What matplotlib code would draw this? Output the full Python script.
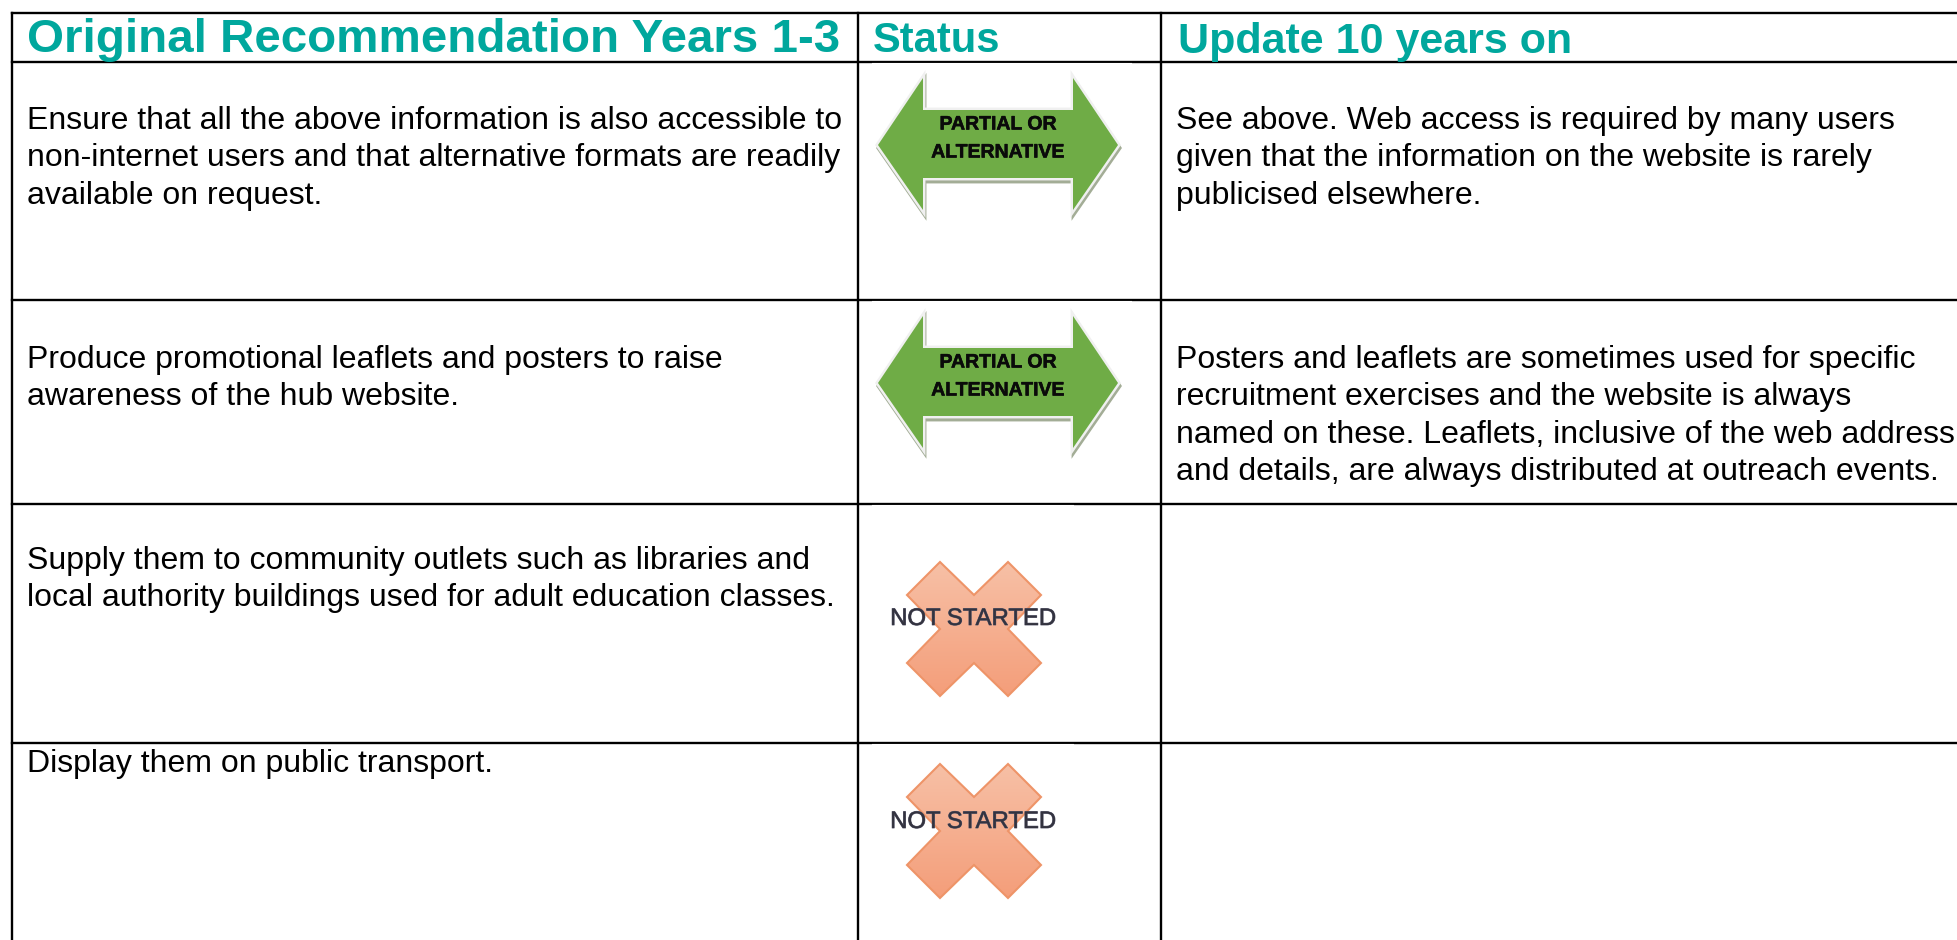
import matplotlib
matplotlib.use("Agg")
import matplotlib.pyplot as plt
import matplotlib.patheffects as pe
import numpy as np
from matplotlib.patches import Polygon

plt.rcParams['font.family'] = ['Liberation Sans', 'DejaVu Sans']

W, H = 1957, 940

headers = ["Original Recommendation Years 1-3", "Status", "Update 10 years on"]
header_sizes = [34.2, 30, 31]
header_x = [27, 873, 1178]
recommendations = [
    ["Ensure that all the above information is also accessible to",
     "non-internet users and that alternative formats are readily",
     "available on request."],
    ["Produce promotional leaflets and posters to raise",
     "awareness of the hub website."],
    ["Supply them to community outlets such as libraries and",
     "local authority buildings used for adult education classes."],
    ["Display them on public transport."],
]
statuses = [["PARTIAL OR", "ALTERNATIVE"], ["PARTIAL OR", "ALTERNATIVE"], ["NOT STARTED"], ["NOT STARTED"]]
updates = [
    ["See above. Web access is required by many users",
     "given that the information on the website is rarely",
     "publicised elsewhere."],
    ["Posters and leaflets are sometimes used for specific",
     "recruitment exercises and the website is always",
     "named on these. Leaflets, inclusive of the web address",
     "and details, are always distributed at outreach events."],
    [],
    [],
]

col_x = [12, 858, 1161]
row_y = [13, 62, 300, 504, 743]
text_top = [129, 368, 569, 772]
cross_cy = [None, None, 629, 831]
cross_text_y = [None, None, 619, 822]
teal = "#00A79D"
line_gap = 37.4


def draw_arrow(ax, top):
    # double arrow, top is the row line above it
    xs = np.array([878, 923, 923, 1073, 1073, 1118, 1073, 1073, 923, 923])
    ys = np.array([145, 78, 110, 110, 78, 145, 210, 178, 178, 210]) - 62 + top
    ax.add_patch(Polygon(np.c_[xs + 1, ys + 3], fc="#A3AD96", ec="#A3AD96", lw=3.5, joinstyle="miter", zorder=2))
    ax.add_patch(Polygon(np.c_[xs, ys], fc="#F0F0F0", ec="#F0F0F0", lw=3.5, joinstyle="miter", zorder=2.5))
    ax.add_patch(Polygon(np.c_[xs, ys], fc="#6FAC46", ec="none", zorder=3))


def draw_cross(ax, cx, cy):
    a, b = 67, 34
    pts = [(-a, -b), (-b, -a), (0, -b), (b, -a), (a, -b), (b, 0), (a, b), (b, a), (0, b), (-b, a), (-a, b), (-b, 0)]
    pts = np.array(pts) + [cx, cy]
    poly = Polygon(pts, fc="none", ec="#EE9468", lw=1.5, zorder=3)
    ax.add_patch(poly)
    grad = np.linspace(0, 1, 64).reshape(-1, 1, 1)
    img = (1 - grad) * np.array([247, 192, 166]) / 255 + grad * np.array([244, 158, 122]) / 255
    im = ax.imshow(img, extent=(cx - a, cx + a, cy + a, cy - a), aspect="auto", zorder=2.5)
    im.set_clip_path(poly)


fig = plt.figure(figsize=(W / 100, H / 100), dpi=100)
ax = fig.add_axes([0, 0, 1, 1])

for x in col_x:
    ax.plot([x, x], [row_y[0], H], color="black", lw=1.7, zorder=1, solid_capstyle="projecting")
for y in row_y:
    ax.plot([col_x[0], W], [y, y], color="black", lw=1.7, zorder=1, solid_capstyle="projecting")

for x, label, size in zip(header_x, headers, header_sizes):
    ax.text(x, 52.5, label, color=teal, fontsize=size, fontweight="bold", ha="left", va="baseline", zorder=4)

for i, top in enumerate(row_y[1:]):
    for n, line in enumerate(recommendations[i]):
        ax.text(col_x[0] + 15, text_top[i] + n * line_gap, line, fontsize=23, va="baseline", ha="left", zorder=4)
    for n, line in enumerate(updates[i]):
        ax.text(col_x[2] + 15, text_top[i] + n * line_gap, line, fontsize=23, va="baseline", ha="left", zorder=4)
    # the pasted status pictures cover half of the row line
    if "PARTIAL OR" in statuses[i]:
        ax.plot([872, 1131], [top + 1, top + 1], color="white", lw=0.8, zorder=1.5)
        draw_arrow(ax, top)
        for n, line in enumerate(statuses[i]):
            ax.text(998, top + 63 + n * 28, line, fontsize=14, fontweight="bold", ha="center", va="center",
                    color="#0A0A0A", zorder=4,
                    path_effects=[pe.withStroke(linewidth=0.4, foreground="#0A0A0A")])
    else:
        ax.plot([872, 1073], [top + 1, top + 1], color="white", lw=0.8, zorder=1.5)
        draw_cross(ax, 974, cross_cy[i])
        ax.text(973, cross_text_y[i], statuses[i][0], fontsize=17.2, ha="center", va="center",
                color="#33333F", zorder=4,
                path_effects=[pe.withStroke(linewidth=0.6, foreground="#55556A")])

ax.set_xlim(0, W)
ax.set_ylim(H, 0)
ax.axis("off")

fig.savefig("out.png", dpi=100)
